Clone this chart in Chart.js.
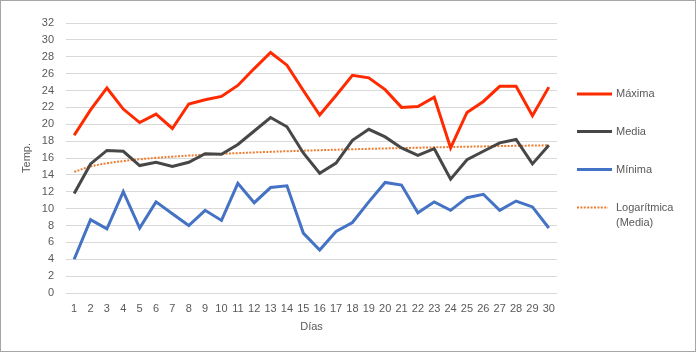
<!DOCTYPE html>
<html>
<head>
<meta charset="utf-8">
<script src="https://cdn.jsdelivr.net/npm/chart.js@4/dist/chart.umd.min.js"></script>
<style>
  html, body { margin: 0; padding: 0; background: #fff; }
  #wrap { width: 697px; height: 353px; position: relative; }
</style>
</head>
<body>
<div id="wrap"><canvas id="grafico" width="697" height="353"></canvas></div>
<script>
// días del mes
const dias = ['1','2','3','4','5','6','7','8','9','10','11','12','13','14','15','16','17','18','19','20','21','22','23','24','25','26','27','28','29','30'];

// temperaturas
const maxima = [18.7, 21.7, 24.3, 21.8, 20.2, 21.2, 19.5, 22.4, 22.9, 23.3, 24.6, 26.6, 28.5, 27.0, 24.0, 21.1, 23.4, 25.8, 25.5, 24.1, 22.0, 22.1, 23.2, 17.2, 21.4, 22.7, 24.5, 24.5, 21.0, 24.4];
const media  = [11.8, 15.3, 16.9, 16.8, 15.1, 15.5, 15.0, 15.5, 16.5, 16.45, 17.6, 19.2, 20.8, 19.7, 16.6, 14.2, 15.4, 18.1, 19.4, 18.5, 17.2, 16.3, 17.1, 13.5, 15.8, 16.8, 17.8, 18.2, 15.3, 17.5];
const minima = [4.0, 8.7, 7.6, 12.0, 7.7, 10.8, 9.4, 8.0, 9.8, 8.6, 13.0, 10.7, 12.5, 12.7, 7.1, 5.1, 7.3, 8.35, 10.8, 13.1, 12.8, 9.5, 10.8, 9.8, 11.3, 11.7, 9.8, 10.9, 10.2, 7.7];

// línea de tendencia logarítmica de la media (ajuste por mínimos cuadrados, como Excel)
const tendencia = (() => {
    const n = media.length;
    let sx = 0, sy = 0, sxx = 0, sxy = 0;
    media.forEach((y, i) => {
        const lx = Math.log(i + 1);
        sx += lx; sy += y; sxx += lx * lx; sxy += lx * y;
    });
    const a = (n * sxy - sx * sy) / (n * sxx - sx * sx);
    const b = (sy - a * sx) / n;
    return media.map((_, i) => a * Math.log(i + 1) + b);
})();

const gris = '#595959';
const fuente = { family: 'Liberation Sans, Arial, sans-serif', size: 11 };

// leyenda a la derecha, dibujada a mano para permitir dos líneas
const leyenda = {
    id: 'leyenda',
    afterDraw(chart) {
        const ctx = chart.ctx;
        const items = [
            { texto: ['Máxima'], y: 94, ds: 0, fin: 612 },
            { texto: ['Media'], y: 131.5, ds: 1, fin: 612 },
            { texto: ['Mínima'], y: 169.5, ds: 2, fin: 612 },
            { texto: ['Logarítmica', '(Media)'], y: 207.5, ds: 3, fin: 608 }
        ];
        ctx.save();
        items.forEach(it => {
            const d = chart.data.datasets[it.ds];
            ctx.beginPath();
            ctx.strokeStyle = d.borderColor;
            ctx.lineWidth = d.borderWidth;
            ctx.lineCap = 'butt';
            ctx.setLineDash(d.borderDash || []);
            ctx.moveTo(577, it.y);
            ctx.lineTo(it.fin, it.y);
            ctx.stroke();
            ctx.setLineDash([]);
            ctx.fillStyle = gris;
            ctx.font = '11px ' + fuente.family;
            ctx.textBaseline = 'middle';
            it.texto.forEach((t, k) => ctx.fillText(t, 616, it.y + k * 15));
        });
        // marco exterior
        ctx.strokeStyle = '#a6a6a6';
        ctx.lineWidth = 1;
        ctx.strokeRect(0.5, 0.5, 695, 351);
        ctx.restore();
    }
};

new Chart(document.getElementById('grafico'), {
    type: 'line',
    data: {
        labels: dias,
        datasets: [
            { label: 'Máxima', data: maxima, borderColor: '#ff2a00', borderWidth: 3, pointRadius: 0, tension: 0 },
            { label: 'Media', data: media, borderColor: '#474747', borderWidth: 3, pointRadius: 0, tension: 0 },
            { label: 'Mínima', data: minima, borderColor: '#4472c4', borderWidth: 3, pointRadius: 0, tension: 0 },
            { label: 'Logarítmica (Media)', data: tendencia, borderColor: '#ed7d31', borderWidth: 2, borderDash: [2, 1.4], borderCapStyle: 'butt', pointRadius: 0, tension: 0.4 }
        ]
    },
    options: {
        responsive: false,
        animation: false,
        devicePixelRatio: 1,
        layout: { padding: { left: 0, right: 140, top: 23, bottom: 15 } },
        plugins: {
            legend: { display: false },
            tooltip: { enabled: false }
        },
        scales: {
            x: {
                offset: true,
                grid: { display: false, drawTicks: false },
                border: { display: false },
                ticks: { color: gris, font: fuente, padding: 9, maxRotation: 0, autoSkip: false },
                title: { display: true, text: 'Días', color: gris, font: fuente, padding: { top: 4, bottom: 4 } },
                afterFit: s => { s.height = 45; }
            },
            y: {
                min: 0, max: 32,
                ticks: { stepSize: 2, color: gris, font: fuente, padding: 12 },
                grid: { color: '#d9d9d9', lineWidth: 1, drawTicks: false },
                border: { display: false },
                title: { display: true, text: 'Temp.', color: gris, font: fuente, padding: { top: 20, bottom: 4 } },
                afterFit: s => { s.width = 66; }
            }
        }
    },
    plugins: [leyenda]
});
</script>
</body>
</html>
